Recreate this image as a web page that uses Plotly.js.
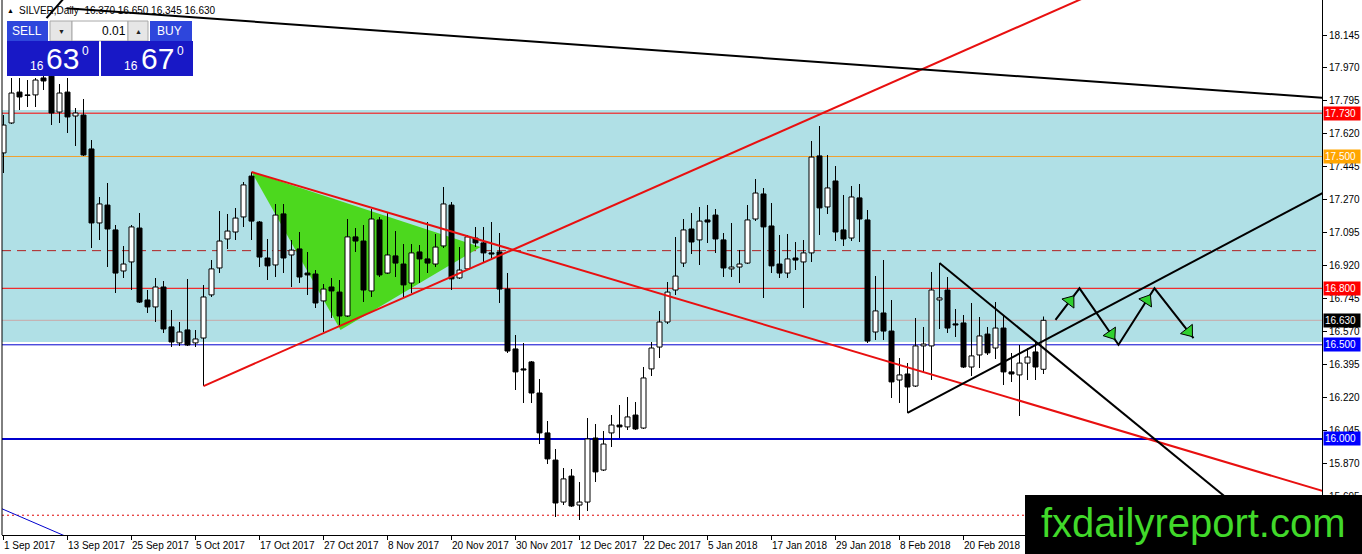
<!DOCTYPE html>
<html><head><meta charset="utf-8">
<script src="https://cdn.plot.ly/plotly-3.0.1.min.js"></script>
<style>html,body{margin:0;padding:0;background:#fff;overflow:hidden}#chart{width:1362px;height:554px}</style>
</head><body><div id="chart"></div>
<script>
// ---------------- data ----------------
const symbol = 'SILVER', timeframe = 'Daily';
const openP = [17.519,17.678,17.842,17.827,17.827,17.917,17.927,17.736,17.842,17.715,17.720,17.540,17.147,17.242,17.110,16.892,16.940,17.120,16.738,16.701,16.807,16.595,16.510,16.579,16.510,16.536,16.765,16.908,17.062,17.099,17.179,17.396,17.152,16.961,16.924,17.195,16.977,17.009,16.881,16.876,16.733,16.807,16.780,16.653,17.073,17.051,16.786,17.163,16.881,16.972,16.929,16.828,16.993,16.956,16.929,17.025,17.242,16.855,16.903,17.067,17.041,16.988,16.993,16.796,16.478,16.372,16.409,16.244,16.032,15.888,15.665,15.803,15.649,15.665,16.005,15.835,16.032,16.074,16.064,16.127,16.058,16.372,16.488,16.621,16.791,16.934,17.115,17.057,17.163,17.189,17.057,16.903,16.913,16.934,17.168,17.301,17.131,16.929,16.881,16.961,16.940,16.988,17.503,17.232,17.370,17.110,17.067,17.280,17.163,16.568,16.669,16.573,16.313,16.345,16.281,16.494,16.494,16.738,16.791,16.611,16.616,16.382,16.446,16.557,16.483,16.589,16.356,16.340,16.403,16.462,16.370];
const highP = [17.720,17.917,17.917,17.906,17.917,17.927,17.959,17.885,17.917,17.758,17.805,17.588,17.285,17.359,17.136,17.025,17.136,17.200,16.791,16.855,16.839,16.685,16.621,16.850,16.579,16.818,16.950,17.211,17.195,17.227,17.365,17.418,17.157,17.062,17.248,17.248,17.057,17.099,16.993,16.897,16.823,16.855,16.844,17.168,17.120,17.136,17.221,17.179,17.200,17.104,17.035,17.035,17.030,17.152,17.088,17.338,17.258,17.019,17.083,17.126,17.126,17.152,17.094,16.881,16.552,16.510,16.414,16.319,16.095,15.947,15.846,15.841,15.772,16.111,16.080,16.042,16.127,16.180,16.223,16.196,16.382,16.515,16.680,16.834,17.073,17.168,17.200,17.232,17.242,17.221,17.094,17.147,17.003,17.242,17.381,17.333,17.253,17.083,17.088,17.046,17.057,17.582,17.662,17.508,17.450,17.296,17.343,17.354,17.216,16.865,16.950,16.738,16.430,16.403,16.642,16.595,16.887,16.934,16.860,16.690,16.658,16.722,16.648,16.595,16.727,16.653,16.457,16.499,16.483,16.515,16.650];
const lowP = [17.412,17.673,17.747,17.763,17.763,17.853,17.667,17.678,17.625,17.556,17.503,17.014,17.057,16.913,16.775,16.855,16.791,16.722,16.669,16.621,16.563,16.488,16.494,16.494,16.488,16.281,16.754,16.881,17.009,17.057,17.126,17.057,16.913,16.844,16.860,16.881,16.807,16.828,16.765,16.696,16.568,16.642,16.595,16.648,16.993,16.727,16.754,16.860,16.876,16.860,16.754,16.775,16.828,16.881,16.913,17.014,16.791,16.850,16.897,17.019,16.940,16.961,16.722,16.457,16.260,16.191,16.191,15.973,15.867,15.586,15.649,15.639,15.570,15.618,15.772,15.830,15.957,16.005,16.048,16.048,16.053,16.334,16.430,16.611,16.765,16.913,16.982,16.924,17.041,16.988,16.860,16.860,16.828,16.929,17.157,16.749,16.881,16.855,16.855,16.897,16.696,16.940,17.083,17.195,17.051,17.025,17.051,17.046,16.510,16.526,16.526,16.218,16.191,16.138,16.276,16.356,16.313,16.584,16.563,16.542,16.377,16.334,16.377,16.446,16.425,16.287,16.303,16.122,16.313,16.313,16.345];
const closeP = [17.667,17.837,17.816,17.824,17.906,17.901,17.731,17.837,17.710,17.731,17.508,17.147,17.248,17.115,16.881,16.929,17.126,16.727,16.701,16.807,16.584,16.515,16.568,16.499,16.531,16.754,16.903,17.051,17.104,17.173,17.349,17.157,16.966,16.919,17.189,16.961,17.003,16.860,16.871,16.722,16.796,16.786,16.653,17.073,17.051,16.791,17.168,16.871,16.977,16.934,16.818,16.988,16.956,16.934,17.019,17.248,16.850,16.897,17.073,17.041,16.988,16.982,16.796,16.467,16.356,16.366,16.244,16.032,15.894,15.660,15.788,15.644,15.665,16.000,15.825,15.973,16.074,16.064,16.117,16.053,16.324,16.483,16.621,16.780,16.865,17.110,17.046,17.157,17.152,17.062,16.908,16.913,16.929,17.163,17.306,17.126,16.919,16.881,16.956,16.950,16.988,17.497,17.227,17.333,17.099,17.062,17.285,17.168,16.520,16.680,16.573,16.303,16.340,16.276,16.494,16.504,16.791,16.749,16.589,16.605,16.382,16.441,16.547,16.457,16.589,16.356,16.345,16.403,16.435,16.382,16.630];

const tickBars = [0,8,16,24,32,40,48,56,64,72,80,88,96,104,112,120];
const tickLabels = ['1 Sep 2017','13 Sep 2017','25 Sep 2017','5 Oct 2017','17 Oct 2017','27 Oct 2017','8 Nov 2017','20 Nov 2017','30 Nov 2017','12 Dec 2017','22 Dec 2017','5 Jan 2018','17 Jan 2018','29 Jan 2018','8 Feb 2018','20 Feb 2018'];
const priceTicks = [18.145,17.970,17.795,17.620,17.445,17.270,17.095,16.920,16.745,16.570,16.395,16.220,16.045,15.870,15.695];

const bid = 16.630, ask = 16.670, lotSize = '0.01';

const zoneLow = 16.515, zoneHigh = 17.747;
const levelPrices = [17.730, 17.500, 17.000, 16.800, 16.630, 16.500, 16.000, 15.595];
const labelledLevels = [17.730, 17.500, 16.800, 16.630, 16.500, 16.000];

// trendlines: [bar0, price0, bar1, price1]
const redUpLine = [25, 16.281, 136, 18.360];
const redDownLine = [31, 17.418, 166, 15.710];
const blackUpLine = [113, 16.138, 166, 17.331];
const blackDownLine = [117, 16.934, 158, 15.509];
const topLine = [7.875, 18.287, 166, 17.808];
const slashLine = [5.375, 18.235, 7.75, 18.350];
const blueLine = [-1, 15.644, 8.5, 15.470];
const triangleBars = [31, 42.125, 59.625];
const trianglePrices = [17.418, 16.579, 17.019];
const zigzagBars = [131.5, 134.5, 139.375, 143.875, 148.75];
const zigzagPrices = [16.632, 16.800, 16.500, 16.800, 16.536];

// ---------------- layout geometry / styles ----------------
const W = 1362, H = 554, M = {l: 2, r: 40, t: 0, b: 19};
const plotW = W - M.l - M.r, plotH = H - M.t - M.b;
const xRange = [-0.1875, 164.8125];
const yRange = [15.490, 18.331];
const FONT = 'Liberation Sans, Arial, sans-serif';
const px = x => (x - M.l) / plotW;
const py = y => 1 - (y - M.t) / plotH;

const idx = openP.map((_, i) => i);
const up = idx.filter(i => closeP[i] >= openP[i]);
const dn = idx.filter(i => closeP[i] < openP[i]);
const MINBODY = 0.002;

const traces = [
  {type: 'bar', x: idx, base: lowP, y: idx.map(i => highP[i] - lowP[i]), width: 0.125,
   marker: {color: '#000', line: {width: 0}}, hoverinfo: 'skip'},
  {type: 'bar', x: up, base: up.map(i => openP[i]), y: up.map(i => Math.max(closeP[i] - openP[i], MINBODY)), width: 0.625,
   marker: {color: '#fff', line: {color: '#000', width: 1}}, hoverinfo: 'skip'},
  {type: 'bar', x: dn, base: dn.map(i => closeP[i]), y: dn.map(i => Math.max(openP[i] - closeP[i], MINBODY)), width: 0.625,
   marker: {color: '#000', line: {color: '#000', width: 1}}, hoverinfo: 'skip'},
  {type: 'scatter', mode: 'lines', x: zigzagBars, y: zigzagPrices, line: {color: '#000', width: 2}, hoverinfo: 'skip'}
];

// arrowheads on zigzag
const fracs = [0.6, 0.81, 0.79, 0.87];
const pxPerBar = plotW / (xRange[1] - xRange[0]);
const pxPerPrice = plotH / (yRange[1] - yRange[0]);
const ahX = [], ahY = [], ahA = [];
for (let s = 0; s < zigzagBars.length - 1; s++) {
  const dx = zigzagBars[s + 1] - zigzagBars[s], dy = zigzagPrices[s + 1] - zigzagPrices[s];
  ahX.push(zigzagBars[s] + fracs[s] * dx);
  ahY.push(zigzagPrices[s] + fracs[s] * dy);
  ahA.push(Math.atan2(dx * pxPerBar, dy * pxPerPrice) * 180 / Math.PI);
}
traces.push({type: 'scatter', mode: 'markers', x: ahX, y: ahY,
  marker: {symbol: 'triangle-up', size: 13, angle: ahA, color: '#2fd12f', line: {color: '#000', width: 1}}, hoverinfo: 'skip'});

const shapes = [];
// zone
shapes.push({type: 'rect', xref: 'paper', x0: 0, x1: 1, yref: 'y', y0: zoneLow, y1: zoneHigh,
  fillcolor: '#B0E0E6', line: {width: 0}, layer: 'below'});
// horizontal levels
const levelStyles = [
  {color: '#FF0000', width: 1, dash: 'solid'},
  {color: '#F0A030', width: 1, dash: 'solid'},
  {color: '#B02020', width: 1, dash: '9px,6px'},
  {color: '#FF0000', width: 1, dash: 'solid'},
  {color: '#C8A8A8', width: 1, dash: 'solid'},
  {color: '#0000CD', width: 1, dash: 'solid'},
  {color: '#0000CD', width: 2, dash: 'solid'},
  {color: '#E00000', width: 1, dash: '2px,3px'}
];
levelPrices.forEach((v, i) => shapes.push({type: 'line', xref: 'paper', x0: 0, x1: 1, yref: 'y', y0: v, y1: v,
  line: levelStyles[i], layer: 'below'}));
// green triangle
shapes.push({type: 'path', xref: 'x', yref: 'y', layer: 'below',
  path: 'M ' + triangleBars.map((b, i) => b + ',' + trianglePrices[i]).join(' L ') + ' Z',
  fillcolor: '#4CD81E', line: {width: 0}});
// trendlines
function tl(a, color, width) {
  return {type: 'line', xref: 'x', yref: 'y', x0: a[0], y0: a[1], x1: a[2], y1: a[3], line: {color: color, width: width}, layer: 'above'};
}
shapes.push(tl(blueLine, '#0000CD', 1));
shapes.push(tl(redUpLine, '#E81010', 2));
shapes.push(tl(redDownLine, '#E81010', 2));
shapes.push(tl(topLine, '#000', 2));
shapes.push(tl(slashLine, '#000', 2));
shapes.push(tl(blackUpLine, '#000', 2));
shapes.push(tl(blackDownLine, '#000', 2));
// left border
shapes.push({type: 'line', xref: 'paper', yref: 'paper', x0: 0, x1: 0, y0: 0, y1: 1, line: {color: '#000', width: 1}, layer: 'above'});

function rect(x0, y0, x1, y1, fill, line) {
  return {type: 'rect', xref: 'paper', yref: 'paper', x0: px(x0), x1: px(x1), y0: py(y1), y1: py(y0),
    fillcolor: fill, line: {color: line || fill, width: line ? 1 : 0}, layer: 'above'};
}
// trade panel
shapes.push(rect(7, 21, 48, 41, '#2E46DC'));
shapes.push(rect(50, 21, 72, 41, '#E6E6E6', '#A8A8A8'));
shapes.push(rect(72, 21, 128, 41, '#FFFFFF', '#A8A8A8'));
shapes.push(rect(128, 21, 148, 41, '#E6E6E6', '#A8A8A8'));
shapes.push(rect(150, 21, 192, 41, '#2E46DC'));
shapes.push(rect(7, 41, 99, 76, '#1818C6'));
shapes.push(rect(101, 41, 193, 76, '#1818C6'));
// watermark box
shapes.push(rect(1025, 495, 1362, 554, '#000000'));

const annotations = [];
function txt(x, y, t, size, color, anchor, extra) {
  return Object.assign({xref: 'paper', yref: 'paper', x: px(x), y: py(y), text: t, showarrow: false,
    font: {family: FONT, size: size, color: color}, xanchor: anchor || 'center', yanchor: 'middle'}, extra || {});
}
// date labels
tickBars.forEach((b, i) => annotations.push({xref: 'x', yref: 'paper', x: b, y: 0, text: tickLabels[i], showarrow: false,
  xanchor: 'left', yanchor: 'top', xshift: -2, yshift: -3, font: {family: FONT, size: 10, color: '#000'}}));
// price label boxes
const labelColors = {'17.730': '#FF0000', '17.500': '#FFA500', '16.800': '#FF0000', '16.630': '#000000', '16.500': '#0000FF', '16.000': '#0000FF'};
labelledLevels.forEach(v => annotations.push({xref: 'paper', yref: 'y', x: 1, y: v, text: v.toFixed(3), showarrow: false,
  xanchor: 'left', yanchor: 'middle', xshift: 1, bgcolor: labelColors[v.toFixed(3)], borderpad: 1, width: 34, height: 11,
  align: 'left', font: {family: FONT, size: 10, color: '#fff'}}));
// header
const last = openP.length - 1;
annotations.push(txt(10, 10, '▲', 7, '#000'));
annotations.push(txt(17, 10, symbol + ',' + timeframe + '  ' + [openP[last], highP[last], lowP[last], closeP[last]].map(v => v.toFixed(3)).join(' '), 10, '#000', 'left'));
// trade panel texts
const bidStr = bid.toFixed(3), askStr = ask.toFixed(3);
annotations.push(txt(27, 31, 'SELL', 12, '#fff'));
annotations.push(txt(61, 31, '▼', 7, '#222'));
annotations.push(txt(128, 31, lotSize, 12, '#000', 'right'));
annotations.push(txt(138, 31, '▲', 7, '#222'));
annotations.push(txt(170, 31, 'BUY', 12, '#fff'));
annotations.push(txt(36.5, 66, bidStr.slice(0, 2), 12, '#fff'));
annotations.push(txt(62.5, 59, bidStr.slice(3, 5), 30, '#fff'));
annotations.push(txt(85, 51, bidStr.slice(5), 12, '#fff'));
annotations.push(txt(130.5, 66, askStr.slice(0, 2), 12, '#fff'));
annotations.push(txt(157, 59, askStr.slice(3, 5), 30, '#fff'));
annotations.push(txt(180, 51, askStr.slice(5), 12, '#fff'));
// watermark text
annotations.push(txt(1193, 523, 'fxdailyreport.com', 40, '#41D92A'));

const layout = {
  width: W, height: H, margin: M, paper_bgcolor: '#fff', plot_bgcolor: '#fff',
  showlegend: false, hovermode: false, barmode: 'overlay',
  font: {family: FONT, size: 10, color: '#000'},
  xaxis: {range: xRange, showgrid: false, zeroline: false, showline: true, linecolor: '#000', linewidth: 1,
    ticks: 'outside', ticklen: 4, tickcolor: '#000', tickvals: tickBars, showticklabels: false, fixedrange: true},
  yaxis: {range: yRange, side: 'right', showgrid: false, zeroline: false, showline: true, linecolor: '#000', linewidth: 1,
    ticks: 'outside', ticklen: 4, tickcolor: '#000', tickvals: priceTicks, ticktext: priceTicks.map(v => v.toFixed(3)),
    tickfont: {family: FONT, size: 10, color: '#000'}, fixedrange: true},
  shapes: shapes, annotations: annotations
};
Plotly.newPlot('chart', traces, layout, {staticPlot: true, displayModeBar: false});
</script></body></html>
